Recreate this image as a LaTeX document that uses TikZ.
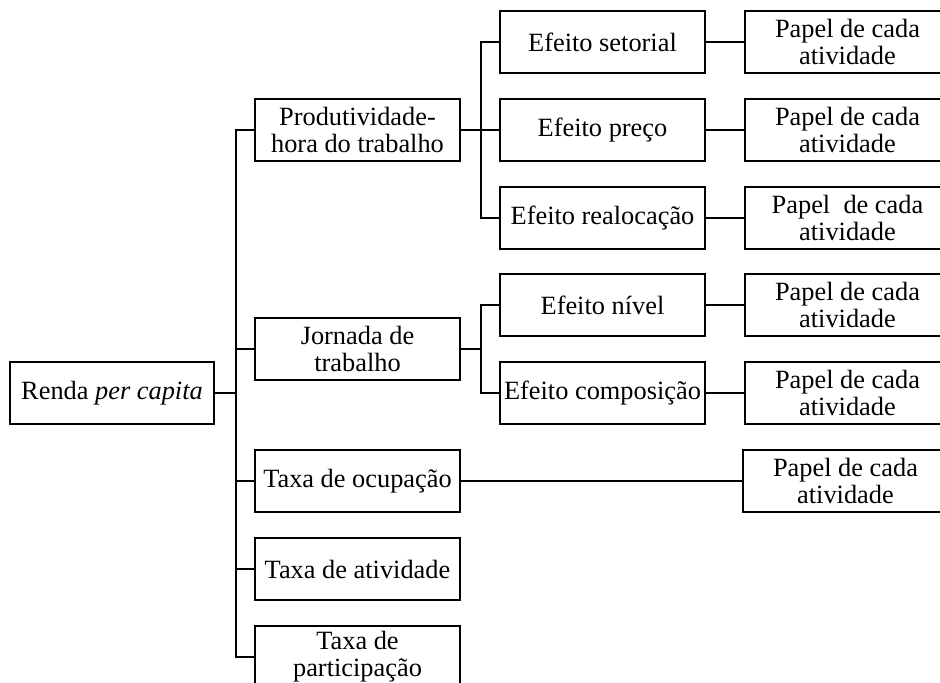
\documentclass[tikz,border=0pt]{standalone}
\usepackage{fontspec}
\setmainfont{Liberation Serif}
\usetikzlibrary{calc}

\tikzset{
  box/.style={draw, line width=0.85pt, minimum width=90.2pt, minimum height=27.3pt,
    inner sep=1pt, align=center, font=\fontsize{11.6}{12}\selectfont},
  link/.style={line width=0.85pt}
}

\begin{document}
\begin{tikzpicture}[x=0.44pt,y=-0.44pt]

\clip (0,0) rectangle (940,683);

% Root
\node[box, minimum width=89.8pt] (renda) at (112,393) {Renda \textit{per capita}};

% First level
\node[box] (prod) at (357.5,130) {Produtividade-\\hora do trabalho};
\node[box] (jorn) at (357.5,349) {Jornada de\\trabalho};
\node[box] (ocup) at (357.5,481) {Taxa de ocupação};
\node[box] (ativ) at (357.5,569) {Taxa de atividade};
\node[box] (part) at (357.5,657) {Taxa de\\participação};

% Second level
\node[box] (setor) at (602.5,42) {Efeito setorial};
\node[box] (preco) at (602.5,130) {Efeito preço};
\node[box] (realoc) at (602.5,218) {Efeito realocação};
\node[box] (nivel) at (602.5,305) {Efeito nível};
\node[box] (compos) at (602.5,393) {Efeito composição};

% Role of each activity
\node[box] (papA) at (847.5,42) {Papel de cada\\atividade};
\node[box] (papB) at (847.5,130) {Papel de cada\\atividade};
\node[box] (papC) at (847.5,218) {Papel\ \ de cada\\atividade};
\node[box] (papD) at (847.5,305) {Papel de cada\\atividade};
\node[box] (papE) at (847.5,393) {Papel de cada\\atividade};
\node[box] (papF) at (845.5,481) {Papel de cada\\atividade};

% Tree connectors
\foreach \n in {prod,jorn,ocup,ativ,part}
{
\draw[link] (renda.east) -- ++(21,0) |- (\n.west);
}
\foreach \n in {setor,preco,realoc}
{
\draw[link] (prod.east) -- ++(20,0) |- (\n.west);
}
\foreach \n in {nivel,compos}
{
\draw[link] (jorn.east) -- ++(20,0) |- (\n.west);
}

\draw[link] (setor) -- (papA);
\draw[link] (preco) -- (papB);
\draw[link] (realoc) -- (papC);
\draw[link] (nivel) -- (papD);
\draw[link] (compos) -- (papE);
\draw[link] (ocup) -- (papF);

\end{tikzpicture}
\end{document}
